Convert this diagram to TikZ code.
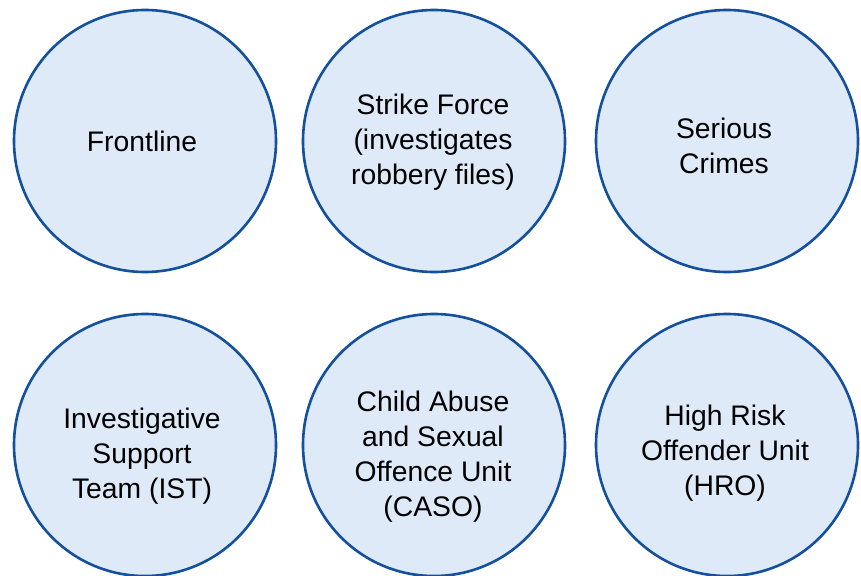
\documentclass[tikz,border=0pt]{standalone}
\usepackage{fontspec}
\setmainfont{Liberation Sans}
\definecolor{ringblue}{RGB}{20,80,155}
\definecolor{fillblue}{RGB}{223,234,248}
\begin{document}
\begin{tikzpicture}[x=1pt,y=-1pt,
  unit/.style={circle,draw=ringblue,line width=2.6pt,fill=fillblue,minimum size=262pt,inner sep=0pt},
  lbl/.style={align=center,font=\fontsize{28.3}{35}\selectfont,text=black,inner sep=0pt}]
\useasboundingbox[fill=white] (0,0) rectangle (861,575);
\node[unit] (c1) at (145,141) {};
\node[unit] (c2) at (434,141) {};
\node[unit] (c3) at (727,141) {};
\node[unit] (c4) at (145,445) {};
\node[unit] (c5) at (434,445) {};
\node[unit] (c6) at (727,445) {};
\node[lbl] (t1) at ([xshift=-3pt]c1.center) {Frontline};
\node[lbl] (t2) at ([xshift=-1pt,yshift=-1pt]c2.center) {Strike Force\\(investigates\\robbery files)};
\node[lbl] (t3) at ([xshift=-3pt,yshift=-4.5pt]c3.center) {Serious\\Crimes};
\node[lbl] (t4) at ([xshift=-3pt,yshift=-11pt]c4.center) {Investigative\\Support\\Team (IST)};
\node[lbl] (t5) at ([xshift=-1pt,yshift=-12pt]c5.center) {Child Abuse\\and Sexual\\Offence Unit\\(CASO)};
\node[lbl] (t6) at ([xshift=-2pt,yshift=-8pt]c6.center) {High Risk\\Offender Unit\\(HRO)};
\end{tikzpicture}
\end{document}
